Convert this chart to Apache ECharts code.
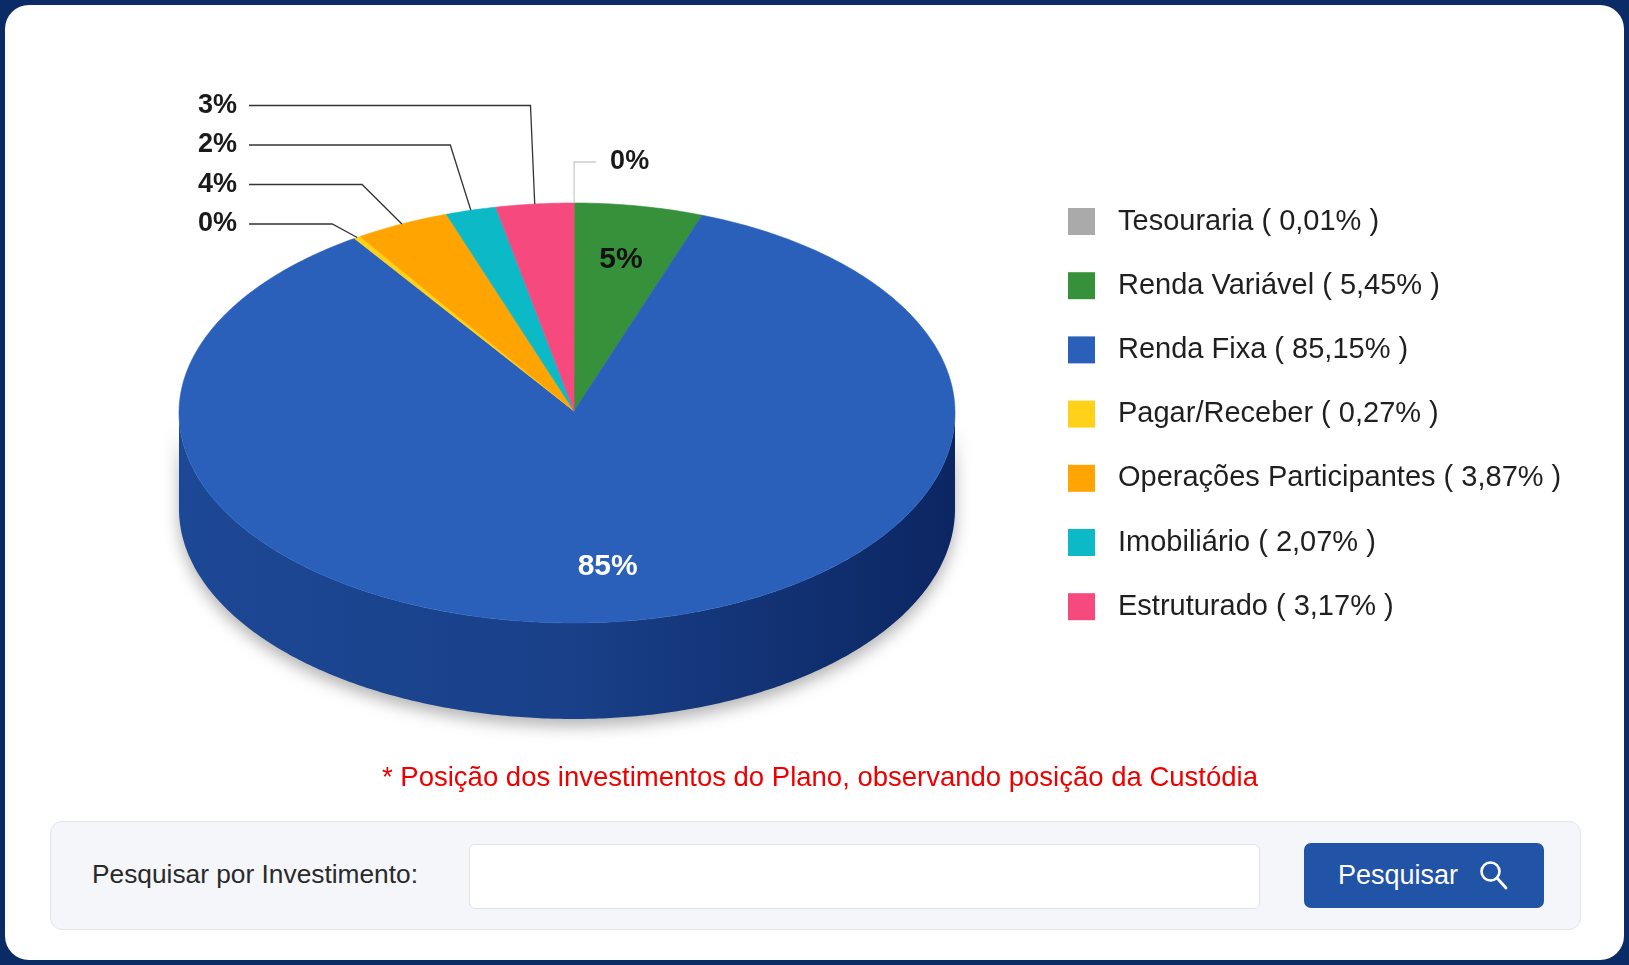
<!DOCTYPE html>
<html>
<head>
<meta charset="utf-8">
<script src="https://cdn.jsdelivr.net/npm/echarts@6/dist/echarts.min.js"></script>
<style>
  html, body { margin:0; padding:0; width:1629px; height:965px; overflow:hidden; background:#0b2b66; font-family:'Liberation Sans', Arial, Helvetica, sans-serif; }
  #card { position:absolute; left:5px; top:5px; width:1619px; height:955px; background:#ffffff; border-radius:24px; }
  #chart { position:absolute; left:0; top:0; width:1629px; height:965px; }
  #note { position:absolute; left:0; top:760px; width:1640px; text-align:center; color:#ee0000; font-size:27.5px; line-height:34px; }
  #panel { position:absolute; left:50px; top:821px; width:1531px; height:109px; background:#f4f6fa; border:1.5px solid #e1e5ec; border-radius:12px; box-sizing:border-box; }
  #plabel { position:absolute; left:92px; top:858px; font-size:26.3px; color:#2a2a2a; line-height:32px; }
  #pinput { position:absolute; left:469px; top:844px; width:791px; height:65px; background:#fff; border:1.5px solid #dfe3e9; border-radius:6px; box-sizing:border-box; }
  #pbtn { position:absolute; left:1304px; top:843px; width:240px; height:65px; background:#2153a6; border-radius:7px; color:#fff; font-size:27px; box-sizing:border-box; }
  #pbtn span { position:absolute; left:34px; top:16px; line-height:32px; }
  #pbtn svg { position:absolute; left:174px; top:16px; }
</style>
</head>
<body>
<div id="card"></div>
<div id="chart"></div>
<div id="note">* Posição dos investimentos do Plano, observando posição da Custódia</div>
<div id="panel"></div>
<div id="plabel">Pesquisar por Investimento:</div>
<div id="pinput"></div>
<div id="pbtn"><span>Pesquisar</span>
  <svg width="32" height="32" viewBox="0 0 32 32"><circle cx="12.5" cy="12.5" r="9" fill="none" stroke="#fff" stroke-width="2.6"/><line x1="19" y1="19" x2="28" y2="29" stroke="#fff" stroke-width="2.8" stroke-linecap="round"/></svg>
</div>
<script>
// ---- data ----
const categories = ['Tesouraria', 'Renda Variável', 'Renda Fixa', 'Pagar/Receber', 'Operações Participantes', 'Imobiliário', 'Estruturado'];
const values = [0.01, 5.45, 85.15, 0.27, 3.87, 2.07, 3.17];
const colors = ['#aaaaaa', '#37913b', '#2a60ba', '#ffd119', '#ffa400', '#0bb9c7', '#f64a7f'];

// ---- layout ----
const L = { cx: 574, cy: 413, rxL: 395, rxR: 381, ry: 210, depth: 96, apexDy: -2 };
const FONT = "'Liberation Sans', Arial, Helvetica, sans-serif";
const TAU = Math.PI * 2;
const total = values.reduce((a, b) => a + b, 0);
const startAng = [];
let acc = 0;
values.forEach(v => { startAng.push(acc / total * TAU); acc += v; });
const midAng = values.map((v, i) => startAng[i] + v / total * TAU / 2);
const insideMin = 5;
// left-side outside labels ranked top to bottom (angle descending)
const leftOutside = values.map((v, i) => i).filter(i => values[i] < insideMin && midAng[i] >= Math.PI)
  .sort((a, b) => midAng[b] - midAng[a]);

function pt(a, f, dy) {
  f = f == null ? 1 : f; dy = dy || 0;
  const s = Math.sin(a);
  return [L.cx + f * (s >= 0 ? L.rxR : L.rxL) * s, L.cy - f * L.ry * Math.cos(a) + dy];
}
function mixDark(hex, t) {
  const c = [1, 3, 5].map(k => parseInt(hex.slice(k, k + 2), 16));
  const d = [0, 16, 64];
  return 'rgb(' + c.map((v, k) => Math.round(v * (1 - t) + d[k] * t)).join(',') + ')';
}
const fmtPct = v => v.toFixed(2).replace('.', ',') + '%';

function renderSlice(i, v, api) {
  const color = colors[i];
  const a0 = startAng[i], a1 = a0 + v / total * TAU;
  const children = [];
  // top face
  const n = Math.max(2, Math.ceil((a1 - a0) / 0.01));
  const top = [[L.cx, L.cy + L.apexDy]];
  for (let k = 0; k <= n; k++) top.push(pt(a0 + (a1 - a0) * k / n));
  children.push({ type: 'polygon', shape: { points: top }, style: { fill: color, stroke: color, lineWidth: 0.6 }, z2: 20 });
  // visible outer wall (front half)
  const s0 = Math.max(a0, Math.PI / 2), s1 = Math.min(a1, Math.PI * 1.5);
  if (s1 > s0) {
    const m = Math.max(2, Math.ceil((s1 - s0) / 0.01));
    const side = [];
    for (let k = 0; k <= m; k++) side.push(pt(s0 + (s1 - s0) * k / m));
    for (let k = m; k >= 0; k--) side.push(pt(s0 + (s1 - s0) * k / m, 1, L.depth));
    children.push({
      type: 'polygon', shape: { points: side }, z2: 5,
      style: {
        fill: { type: 'linear', x: L.cx - L.rxL, y: 0, x2: L.cx + L.rxR, y2: 0, global: true,
          colorStops: [
            { offset: 0, color: mixDark(color, 0.30) },
            { offset: 0.5, color: mixDark(color, 0.40) },
            { offset: 0.8, color: mixDark(color, 0.60) },
            { offset: 1, color: mixDark(color, 0.72) }
          ] },
        shadowBlur: 16, shadowOffsetY: 7, shadowColor: 'rgba(0,0,0,0.30)'
      }
    });
  }
  // labels
  const mid = (a0 + a1) / 2;
  const txt = Math.round(v) + '%';
  if (v >= insideMin) {
    const px = pt(mid, 0.72), py = pt(mid, 0.74);
    children.push({ type: 'text', x: px[0], y: py[1], z2: 40,
      style: { text: txt, fill: v > 50 ? '#ffffff' : '#111111', font: 'bold 30px ' + FONT, align: 'center', verticalAlign: 'middle' } });
  } else if (mid < Math.PI) {
    const an = pt(mid);
    const ly = an[1] - 41;
    children.push({ type: 'polyline', z2: 40, shape: { points: [an, [an[0], ly], [an[0] + 22, ly]] },
      style: { stroke: '#cccccc', lineWidth: 1.3, fill: null } });
    children.push({ type: 'text', x: an[0] + 36, y: ly, z2: 40,
      style: { text: txt, fill: '#1a1a1a', font: 'bold 27px ' + FONT, align: 'left', verticalAlign: 'middle' } });
  } else {
    const rank = leftOutside.indexOf(i);
    const ly = 105.5 + rank * 39.5;
    const an = pt(mid);
    const t = Math.tan(TAU - mid);
    const dy = an[1] - ly;
    const ex = an[0] - 4.3 * t * t * dy;
    children.push({ type: 'polyline', z2: 40, shape: { points: [an, [ex, ly], [249, ly]] },
      style: { stroke: '#333333', lineWidth: 1.3, fill: null } });
    children.push({ type: 'text', x: 237, y: ly, z2: 40,
      style: { text: txt, fill: '#1a1a1a', font: 'bold 27px ' + FONT, align: 'right', verticalAlign: 'middle' } });
  }
  return { type: 'group', children: children };
}

const series = categories.map((name, i) => ({
  type: 'custom',
  name: name,
  coordinateSystem: 'none',
  itemStyle: { color: colors[i] },
  data: [values[i]],
  silent: true,
  renderItem: (params, api) => renderSlice(i, api.value(0), api)
}));

const chart = echarts.init(document.getElementById('chart'), null, { renderer: 'canvas' });
chart.setOption({
  animation: false,
  backgroundColor: 'transparent',
  legend: {
    orient: 'vertical',
    left: 1063,
    top: 202,
    icon: 'rect',
    itemWidth: 27,
    itemHeight: 27,
    itemGap: 35.2,
    selectedMode: false,
    data: categories,
    formatter: name => {
      const i = categories.indexOf(name);
      return name + ' ( ' + fmtPct(values[i]) + ' )';
    },
    textStyle: { fontSize: 29, color: '#1f1f1f', fontFamily: FONT, padding: [0, 0, 0, 18] }
  },
  series: series
});
</script>
</body>
</html>
